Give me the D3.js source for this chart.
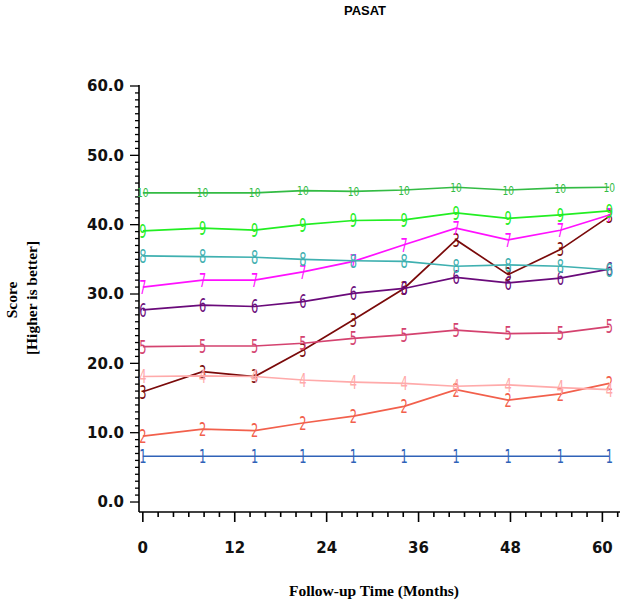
<!DOCTYPE html>
<html><head><meta charset="utf-8">
<script src="https://cdn.jsdelivr.net/npm/d3@7/dist/d3.min.js"></script>
<style>body{margin:0;background:#fff}svg{display:block}</style>
</head><body>
<script>
const months = [0, 7.8, 14.6, 20.9, 27.5, 34.1, 40.9, 47.7, 54.5, 60.9];
const seriesNames = ["1","2","3","4","5","6","7","8","9","10"];
const s1  = [6.6, 6.6, 6.6, 6.6, 6.6, 6.6, 6.6, 6.6, 6.6, 6.6];
const s2  = [9.5, 10.5, 10.3, 11.4, 12.4, 13.8, 16.2, 14.7, 15.6, 17.1];
const s3  = [15.9, 18.8, 18.1, 21.9, 26.3, 30.8, 37.8, 32.8, 36.4, 41.2];
const s4  = [18.1, 18.2, 18.1, 17.6, 17.3, 17.1, 16.7, 16.9, 16.5, 16.2];
const s5  = [22.4, 22.5, 22.5, 22.9, 23.6, 24.1, 24.8, 24.3, 24.4, 25.3];
const s6  = [27.7, 28.4, 28.2, 28.9, 30.1, 30.8, 32.4, 31.6, 32.3, 33.6];
const s7  = [31.0, 32.0, 32.0, 33.2, 34.7, 37.1, 39.5, 37.8, 39.2, 41.4];
const s8  = [35.5, 35.4, 35.3, 35.0, 34.8, 34.7, 34.0, 34.2, 34.0, 33.5];
const s9  = [39.1, 39.5, 39.2, 40.0, 40.6, 40.7, 41.7, 40.9, 41.4, 42.0];
const s10 = [44.6, 44.6, 44.6, 44.9, 44.8, 45.0, 45.4, 45.0, 45.3, 45.4];
const seriesValues = [s1, s2, s3, s4, s5, s6, s7, s8, s9, s10];
const colors = ["#2f62b8","#f2604c","#7a0a0a","#ffaaaa","#d4426f","#6a0a7a","#ff10ff","#3fb0b0","#22ee22","#33bb44"];
const xTicks = [0, 12, 24, 36, 48, 60];
const yTicks = [0, 10, 20, 30, 40, 50, 60];
const title = "PASAT";
const xTitle = "Follow-up Time (Months)";
const yTitle1 = "Score";
const yTitle2 = "[Higher is better]";

const W = 626, H = 613;
const svg = d3.select("body").append("svg").attr("width", W).attr("height", H);

const x = d3.scaleLinear().domain([-0.5, 62.3]).range([139, 620]);
const y = d3.scaleLinear().domain([-1.44, 60]).range([512, 86]);

// Title
svg.append("text").attr("x", 365).attr("y", 15).attr("text-anchor", "middle")
  .attr("font-family", "Liberation Sans, Arial, sans-serif").attr("font-weight", "bold")
  .attr("font-size", 13).text(title);

// X axis
const xAxisG = svg.append("g").attr("transform", "translate(0,512)");
xAxisG.append("line").attr("x1", 139).attr("x2", 620).attr("stroke", "#000").attr("stroke-width", 1.6);
const xMinor = d3.range(0, 63, 2);
xAxisG.selectAll(".xm").data(xMinor).join("line")
  .attr("x1", d => x(d)).attr("x2", d => x(d)).attr("y1", 0)
  .attr("y2", d => d % 12 === 0 ? 10 : 5).attr("stroke", "#000").attr("stroke-width", 1.6);
xAxisG.selectAll(".xl").data(xTicks).join("text")
  .attr("x", d => x(d)).attr("y", 41).attr("text-anchor", "middle")
  .attr("font-family", "DejaVu Sans, Verdana, sans-serif").attr("font-weight", "bold")
  .attr("font-size", 15).attr("fill", "#111").text(d => d);

// Y axis
const yAxisG = svg.append("g").attr("transform", "translate(139,0)");
yAxisG.append("line").attr("y1", 85).attr("y2", 512).attr("stroke", "#000").attr("stroke-width", 1.6);
const yMinor = d3.range(0, 61, 1);
yAxisG.selectAll(".ym").data(yMinor).join("line")
  .attr("y1", d => y(d)).attr("y2", d => y(d)).attr("x1", 0)
  .attr("x2", d => d % 10 === 0 ? -9 : -4).attr("stroke", "#000").attr("stroke-width", 1.3);
yAxisG.selectAll(".yl").data(yTicks).join("text")
  .attr("x", -15).attr("y", d => y(d)).attr("dy", "0.36em").attr("text-anchor", "end")
  .attr("font-family", "DejaVu Sans, Verdana, sans-serif").attr("font-weight", "bold")
  .attr("font-size", 15).attr("fill", "#111").text(d => d3.format(".1f")(d));

// Axis titles
svg.append("text").attr("x", 374).attr("y", 596).attr("text-anchor", "middle")
  .attr("font-family", "Liberation Serif, Times New Roman, serif").attr("font-weight", "bold")
  .attr("font-size", 15.5).text(xTitle);
svg.append("text").attr("transform", "translate(17,300) rotate(-90)").attr("text-anchor", "middle")
  .attr("font-family", "Liberation Serif, Times New Roman, serif").attr("font-weight", "bold")
  .attr("font-size", 15.5).text(yTitle1);
svg.append("text").attr("transform", "translate(37,298) rotate(-90)").attr("text-anchor", "middle")
  .attr("font-family", "Liberation Serif, Times New Roman, serif").attr("font-weight", "bold")
  .attr("font-size", 15.5).text(yTitle2);

// Lines and markers
const line = d3.line().x(d => x(d[0])).y(d => y(d[1]));
const plot = svg.append("g");
seriesValues.forEach((vals, i) => {
  const pts = months.map((m, j) => [m, vals[j]]);
  plot.append("path").datum(pts).attr("d", line).attr("fill", "none")
    .attr("stroke", colors[i]).attr("stroke-width", 1.7);
  const two = seriesNames[i].length > 1;
  const fs = two ? 13 : 19;
  const sx = two ? 0.7 : 0.6;
  plot.selectAll(null).data(pts).join("text")
    .attr("transform", d => `translate(${x(d[0])},${y(d[1])}) scale(${sx},1)`)
    .attr("text-anchor", "middle").attr("dy", "0.36em")
    .attr("font-family", "DejaVu Sans, sans-serif").attr("font-size", fs)
    .attr("fill", colors[i]).text(seriesNames[i]);
});
</script>
</body></html>
